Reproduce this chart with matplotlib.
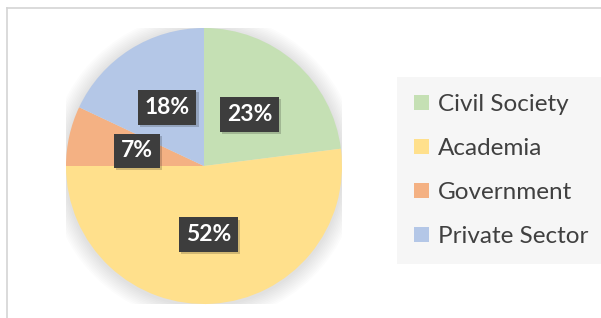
import matplotlib.pyplot as plt
import matplotlib.patheffects as pe
from matplotlib.patches import Patch, Circle
from matplotlib.lines import Line2D

sectors = ['Civil Society', 'Academia', 'Government', 'Private Sector']
shares = [23, 52, 7, 18]
colors = ['#c5e0b4', '#ffe08c', '#f4b183', '#b4c7e7']

W, H = 601, 318
fig = plt.figure(figsize=(W / 100, H / 100), dpi=100)
fig.patch.set_facecolor('white')

# outer frame (top and left edges visible)
fig.add_artist(Line2D([7 / W, 7 / W], [0, 1 - 8 / H], color='#d4d4d4', lw=1.2))
fig.add_artist(Line2D([7 / W, 1], [1 - 8 / H, 1 - 8 / H], color='#d4d4d4', lw=1.2))

R = 138
cx, cy = 204, 166
ax = fig.add_axes([(cx - R) / W, (H - cy - R) / H, 2 * R / W, 2 * R / H])
ax.set_xlim(-1, 1)
ax.set_ylim(-1, 1)
ax.axis('off')

# soft shadow around the pie
for i in range(10):
    ax.add_patch(Circle((0.0, -0.01), 1.0 + 0.012 * (i + 1), color='#000000',
                        alpha=0.012, lw=0, zorder=0))

wedges, texts, autotexts = ax.pie(
    shares, colors=colors, startangle=90, counterclock=False,
    autopct='%d%%', pctdistance=0.5, radius=1,
    wedgeprops=dict(linewidth=0),
    textprops=dict(color='white', fontsize=16.5, fontweight='bold', family='Lato'))
for t in autotexts:
    t.set_bbox(dict(boxstyle='square,pad=0.3', facecolor='#3d3d3d', edgecolor='none'))
    t.get_bbox_patch().set_path_effects([
        pe.SimplePatchShadow(offset=(1.5, -1.5), shadow_rgbFace='#000000', alpha=0.18),
        pe.Normal()])
ax.set_xlim(-1, 1)
ax.set_ylim(-1, 1)

handles = [Patch(facecolor=c, edgecolor='none') for c in colors]
leg = fig.legend(handles, sectors, loc='upper left',
                 bbox_to_anchor=(397 / W, 1 - 77 / H),
                 prop=dict(family='Lato', size=17.5),
                 frameon=True, facecolor='#f6f6f6', edgecolor='none', fancybox=False,
                 framealpha=1, handlelength=0.6, handleheight=0.6,
                 handletextpad=0.4, labelspacing=0.95, borderpad=0.7,
                 borderaxespad=0)
for t in leg.get_texts():
    t.set_color('#404040')

fig.savefig('out.png', dpi=100)
